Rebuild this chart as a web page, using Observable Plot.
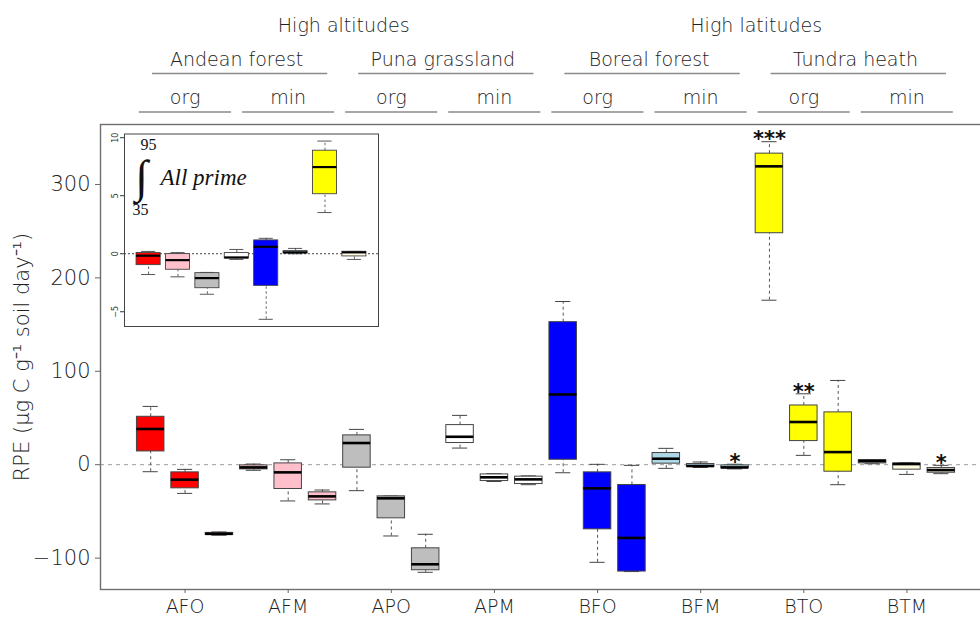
<!DOCTYPE html>
<html><head><meta charset="utf-8">
<script src="https://cdn.jsdelivr.net/npm/d3@7"></script>
<script src="https://cdn.jsdelivr.net/npm/@observablehq/plot@0.6"></script>
<style>
body{margin:0;background:#fff;overflow:hidden}
#wrap{position:relative;width:980px;height:618px;overflow:hidden}
#inset{position:absolute;left:100px;top:125px}
svg{display:block}
</style></head><body><div id="wrap"><div id="head"></div><div id="main"></div><div id="inset"></div></div>
<script>
// ---------- data ----------
const categories = ["AFO","AFM","APO","APM","BFO","BFM","BTO","BTM"];
const regions = ["High altitudes","High latitudes"];
const biomes = ["Andean forest","Puna grassland","Boreal forest","Tundra heath"];
const soils = ["org","min"];
const yTicks = [-100, 0, 100, 200, 300];
// main panel: three boxes per category (RPE, µg C g-1 soil day-1)
const lowWhisker  = [-7.5,-30.7,-75.5,  -6,-38.8,-42,   -27.8,-76.3,-115.2, 17.8,-18,-21.4,  -8.6,-104.5,-114.4, -3.9,-3,-4.5,   176.1,10,-21.4,  1,-10.4,-9.6];
const lowerQuart  = [14.2,-25.3,-75,    -5,-26,-38.2,   -3.2,-57.4,-113,    23.2,-17.5,-20.7, 5.3,-69.2,-114.4,   1.1,-2.5,-3.9,   247.8,25.3,-7.5,  1.4,-5.3,-8.6];
const medians     = [38.2,-16,-74,      -2.9,-8.2,-33.9, 23.2,-36,-106.6,    29.9,-13.5,-15.7, 75.2,-25.3,-78.4,    6.4,-1.4,-2.9,   319.4,45.7,13.5,  3.9,0.7,-5.7];
const upperQuart  = [51.3,-8.2,-73,     -0.7,1.4,-29.6,  31.4,-33.9,-89.5,   42.4,-10.4,-12.8, 152.6,-8.2,-21.7,    12.5,0.7,-0.7,   333,63.4,56,      5,1.4,-3.5];
const highWhisker = [62.4,-5,-72,       0.7,5.3,-27.1,   37.8,-33.6,-74.5,   52.8,-9.6,-12,    174.7,0.4,-0.7,      17.5,2.9,0.5,    345.8,75.9,90.2,  5.5,2.1,-0.7];
const stars       = ["","","", "","","", "","","", "","","", "","","", "","","*", "***","**","", "","","*"];
// inset: integral 35-95 of all priming, one box per category
const insetTicks = [-5, 0, 5, 10];
const insetLow   = [-1.79,-1.99,-3.49,-0.49,-5.65,0.00,3.55,-0.49];
const insetQ1    = [-0.98,-1.38,-2.97,-0.40,-2.77,0.03,5.13,-0.23];
const insetMed   = [-0.17,-0.55,-2.10,-0.32, 0.60,0.12,7.47, 0.12];
const insetQ3    = [ 0.06,-0.03,-1.67, 0.06, 1.15,0.23,8.88, 0.17];
const insetHigh  = [ 0.20, 0.10,-1.61, 0.37, 1.33,0.46,9.71, 0.20];
const integralFrom = "35", integralTo = "95", integralLabel = "All prime";
const yLabel = "RPE (μg C g⁻¹ soil day⁻¹)";

// ---------- tables ----------
const boxes = lowWhisker.map((lo, k) => ({
  i: k + 1, cat: categories[Math.floor(k / 3)], lo, q1: lowerQuart[k], med: medians[k],
  q3: upperQuart[k], hi: highWhisker[k], star: stars[k]
}));
const inset = insetLow.map((lo, k) => ({
  i: k + 1, cat: categories[k], lo, q1: insetQ1[k], med: insetMed[k], q3: insetQ3[k], hi: insetHigh[k]
}));
const per = 3;
const catTicks = categories.map((c, k) => k * per + 2);
const regionSpans = regions.map((r, k) => ({name: r, a: k * 4 * per + 1, b: (k + 1) * 4 * per}));
const biomeSpans = biomes.map((b, k) => ({name: b, a: k * 2 * per + 1, b: (k + 1) * 2 * per}));
const soilSpans = categories.map((c, k) => ({name: soils[k % 2], a: k * per + 1, b: (k + 1) * per}));

const palette = ["#ff0000","#ffc0cb","#bebebe","#ffffff","#0000ff","#add8e6","#ffff00","#fffde0"];
const font = "'DejaVu Sans', sans-serif";
const xDomain = [-0.46, 25.46];

// ---------- header ----------
const head = Plot.plot({
  width: 980, height: 120, marginLeft: 100, marginRight: -11, marginTop: 0, marginBottom: 0,
  x: {type: "linear", domain: xDomain, axis: null},
  y: {type: "point", domain: ["region","biome","soil"], range: [25, 97], padding: 0, axis: null},
  style: {fontFamily: font, fontWeight: 300, color: "#222", background: "transparent"},
  marks: [
    Plot.text(regionSpans, {x: d => (d.a + d.b) / 2, y: () => "region", text: "name", fontSize: 19, fill: "#222", dx: 4}),
    Plot.text(biomeSpans, {x: d => (d.a + d.b) / 2, y: () => "biome", text: "name", fontSize: 19, fill: "#222", dy: -2}),
    Plot.ruleY(biomeSpans, {x1: d => d.a + 0.05, x2: d => d.b + 0.15, y: () => "biome", dy: 12, stroke: "#8a8a8a", strokeWidth: 1.3}),
    Plot.text(soilSpans, {x: d => (d.a + d.b) / 2, y: () => "soil", text: "name", fontSize: 19, fill: "#222"}),
    Plot.ruleY(soilSpans, {x1: d => d.a - 0.33, x2: d => d.b + 0.35, y: () => "soil", dy: 14.5, stroke: "#8a8a8a", strokeWidth: 1.3})
  ]
});
document.getElementById("head").append(head);

// ---------- main ----------
const whisk = {stroke: "#555", strokeWidth: 1, strokeDasharray: "3,3"};
const cap = {stroke: "#444", strokeWidth: 1};
const main = Plot.plot({
  width: 980, height: 498, marginTop: 4, marginBottom: 29, marginLeft: 100, marginRight: -11,
  x: {type: "linear", domain: xDomain},
  y: {domain: [-133.6, 364.2]},
  color: {domain: categories, range: palette},
  style: {fontFamily: font, fontWeight: 300, color: "#222", background: "transparent"},
  marks: [
    Plot.ruleY([0], {stroke: "#9a9a9a", strokeWidth: 1, strokeDasharray: "4,4"}),
    Plot.ruleX(boxes, {x: "i", y1: "lo", y2: "q1", ...whisk}),
    Plot.ruleX(boxes, {x: "i", y1: "q3", y2: "hi", ...whisk}),
    Plot.ruleY(boxes, {y: "lo", x1: d => d.i - 0.22, x2: d => d.i + 0.22, ...cap}),
    Plot.ruleY(boxes, {y: "hi", x1: d => d.i - 0.22, x2: d => d.i + 0.22, ...cap}),
    Plot.rect(boxes, {x1: d => d.i - 0.4, x2: d => d.i + 0.4, y1: "q1", y2: "q3", fill: "cat", stroke: "#444", strokeWidth: 1}),
    Plot.ruleY(boxes, {y: "med", x1: d => d.i - 0.4, x2: d => d.i + 0.4, stroke: "#000", strokeWidth: 2.6}),
    Plot.text(boxes.filter(d => d.star), {x: "i", y: "hi", text: "star", dy: -2, fontSize: 21, fontWeight: 700, fill: "#111", fontFamily: "'DejaVu Sans', sans-serif"}),
    Plot.axisY({ticks: yTicks, tickSize: 5, tickPadding: 5, fontSize: 21, stroke: "#666",
      label: yLabel, labelAnchor: "center", labelOffset: 86, labelArrow: "none"}),
    Plot.axisX({ticks: catTicks, tickFormat: d => categories[(d - 2) / per], tickSize: 4, tickPadding: 6, fontSize: 19, stroke: "#666", label: null}),
    Plot.frame({stroke: "#6e6e6e", strokeWidth: 1.4})
  ]
});
document.getElementById("main").append(main);

// ---------- inset ----------
const iw = {stroke: "#555", strokeWidth: 0.9, strokeDasharray: "2.5,2.5"};
const ic = {stroke: "#444", strokeWidth: 0.9};
const serif = "'Liberation Serif', 'DejaVu Serif', serif";
const ann = {frameAnchor: "top-left", textAnchor: "middle", lineAnchor: "middle", text: d => d, fontFamily: serif, fill: "#111"};
const ins = Plot.plot({
  width: 290, height: 210, marginTop: 8.5, marginBottom: 9, marginLeft: 24, marginRight: 12,
  x: {type: "linear", domain: [0.18, 8.82], axis: null},
  y: {domain: [-6.27, 10.32]},
  color: {domain: categories, range: palette},
  style: {fontFamily: "'DejaVu Sans', sans-serif", color: "#333", background: "transparent"},
  marks: [
    Plot.ruleY([0], {stroke: "#444", strokeWidth: 1, strokeDasharray: "2,2"}),
    Plot.ruleX(inset, {x: "i", y1: "lo", y2: "q1", ...iw}),
    Plot.ruleX(inset, {x: "i", y1: "q3", y2: "hi", ...iw}),
    Plot.ruleY(inset, {y: "lo", x1: d => d.i - 0.24, x2: d => d.i + 0.24, ...ic}),
    Plot.ruleY(inset, {y: "hi", x1: d => d.i - 0.24, x2: d => d.i + 0.24, ...ic}),
    Plot.rect(inset, {x1: d => d.i - 0.41, x2: d => d.i + 0.41, y1: "q1", y2: "q3", fill: "cat", stroke: "#444", strokeWidth: 0.9}),
    Plot.ruleY(inset, {y: "med", x1: d => d.i - 0.41, x2: d => d.i + 0.41, stroke: "#000", strokeWidth: 2.2}),
    Plot.axisY({ticks: insetTicks, tickSize: 4, tickPadding: 3, fontSize: 8, tickRotate: -90, label: null}),
    Plot.text([integralTo], {...ann, dx: 24, dy: 11, fontSize: 16}),
    Plot.text(["∫"], {...ann, dx: 17, dy: 43, fontSize: 46}),
    Plot.text([integralFrom], {...ann, dx: 16, dy: 76, fontSize: 16}),
    Plot.text([integralLabel], {...ann, textAnchor: "start", dx: 36, dy: 44, fontSize: 23, fontStyle: "italic"}),
    Plot.frame({stroke: "#444", strokeWidth: 1})
  ]
});
document.getElementById("inset").append(ins);
</script></body></html>
